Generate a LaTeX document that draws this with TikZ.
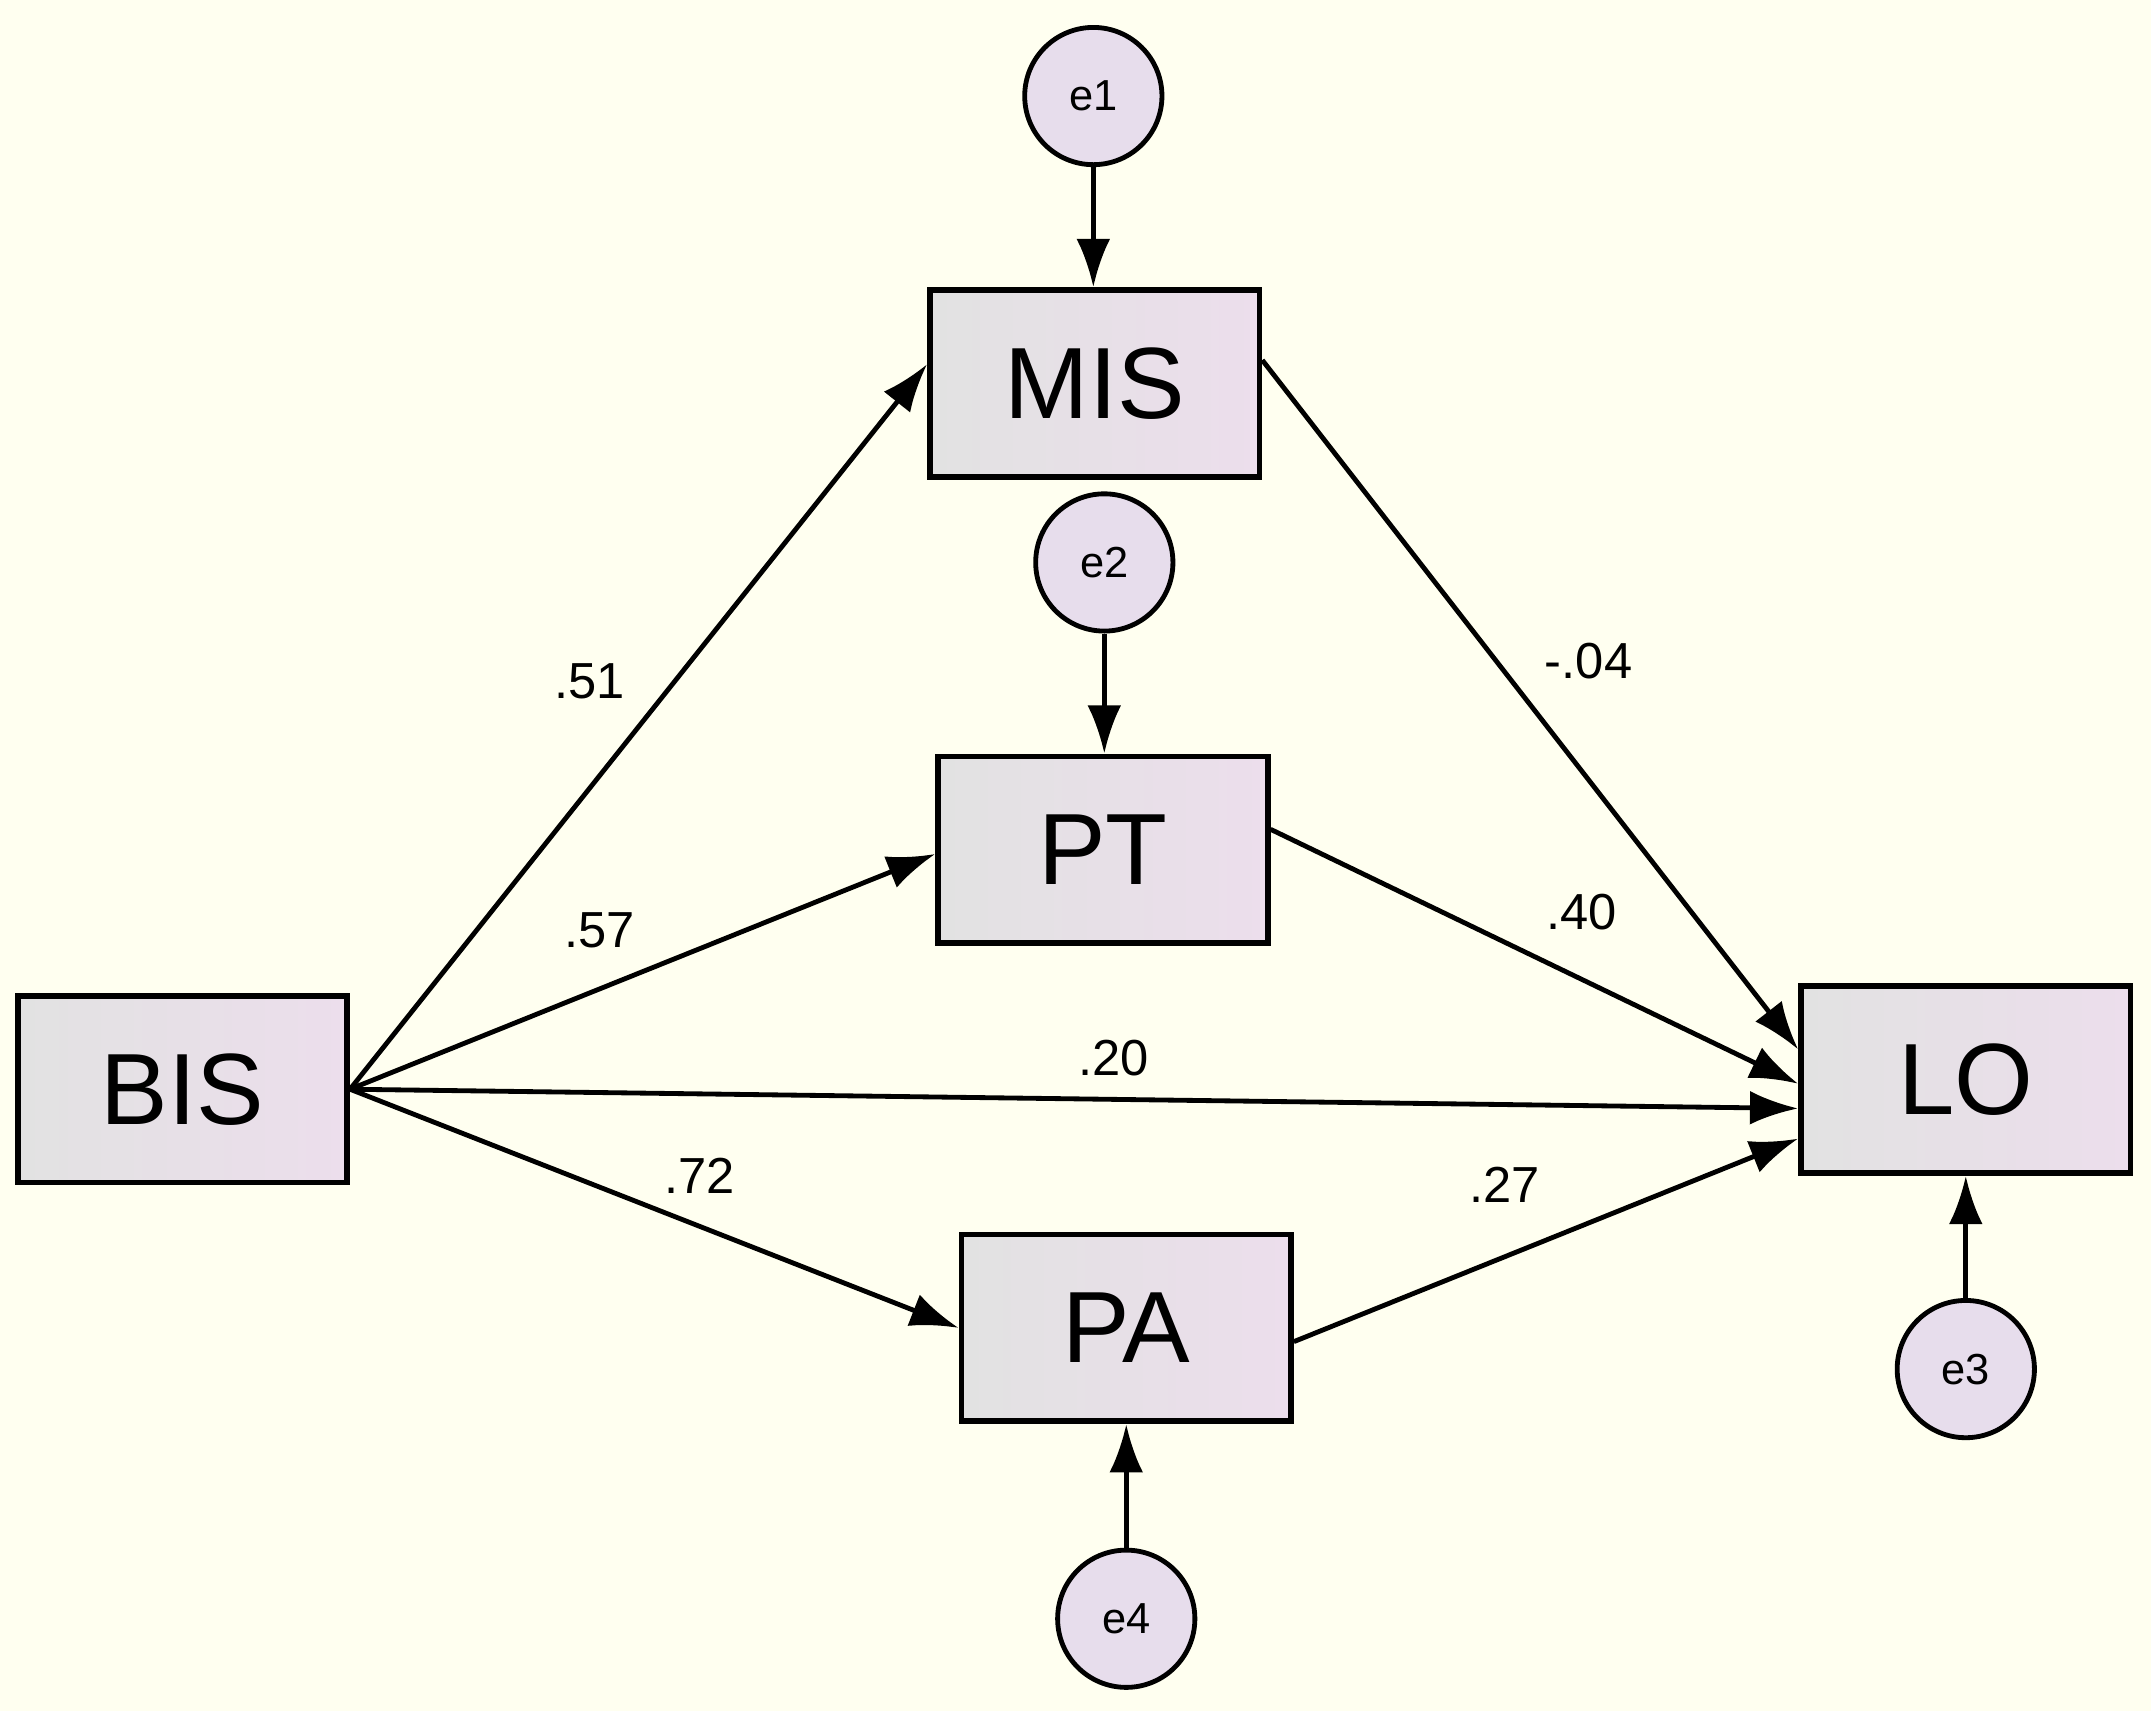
\documentclass[tikz,border=0pt]{standalone}
\usepackage{fontspec}
\setmainfont{Liberation Sans}
\usetikzlibrary{arrows.meta,calc}
\definecolor{bg}{RGB}{255,255,240}
\definecolor{boxl}{RGB}{226,226,226}
\definecolor{boxr}{RGB}{236,222,236}
\definecolor{circ}{RGB}{231,221,236}
\begin{document}
\begin{tikzpicture}[x=0.01cm,y=-0.01cm,
  box/.style={draw,line width=1.2pt,minimum width=2.4cm,minimum height=1.36cm,left color=boxl,right color=boxr,font=\fontsize{21}{24}\selectfont},
  err/.style={draw,circle,line width=1pt,minimum size=1cm,fill=circ,font=\fontsize{9}{11}\selectfont},
  arr/.style={line width=1pt,-{Latex[length=10pt,width=7pt]}},
  lab/.style={font=\fontsize{10.5}{12}\selectfont}]
\fill[bg] (0,0) rectangle (1568,1247);
\useasboundingbox (0,0) rectangle (1568,1247);
\node[box] (MIS) at (798,279.5) {MIS};
\node[box] (PT) at (804,619.5) {PT};
\node[box] (BIS) at (133,794) {BIS};
\node[box] (LO) at (1433,787) {LO};
\node[box] (PA) at (821,968) {PA};
\node[err] (e1) at (797,70) {e1};
\node[err] (e2) at (805,410) {e2};
\node[err] (e3) at (1433,998) {e3};
\node[err] (e4) at (821,1180) {e4};
\draw[arr] (e1) -- (MIS.north -| e1);
\draw[arr] (e2) -- (PT.north -| e2);
\draw[arr] (e3) -- (LO.south);
\draw[arr] (e4) -- (PA.south);
\draw[arr] (BIS.east) -- ($(MIS.west)+(0,-14)$);
\draw[arr] (BIS.east) -- ($(PT.west)+(0,3)$);
\draw[arr] (BIS.east) -- ($(LO.west)+(0,21)$);
\draw[arr] (BIS.east) -- (PA.west);
\draw[arr] ($(MIS.east)+(0,-17)$) -- ($(LO.west)+(0,-22)$);
\draw[arr] ($(PT.east)+(0,-15)$) -- ($(LO.west)+(0,3)$);
\draw[arr] ($(PA.east)+(0,10)$) -- ($(LO.west)+(0,43)$);
\node[lab] (l1) at (430,497) {.51};
\node[lab] (l2) at (437,678) {.57};
\node[lab] (l3) at (812,771) {.20};
\node[lab] (l4) at (510,857) {.72};
\node[lab] (l5) at (1158,482) {-.04};
\node[lab] (l6) at (1153,665) {.40};
\node[lab] (l7) at (1097,864) {.27};
\end{tikzpicture}
\end{document}
